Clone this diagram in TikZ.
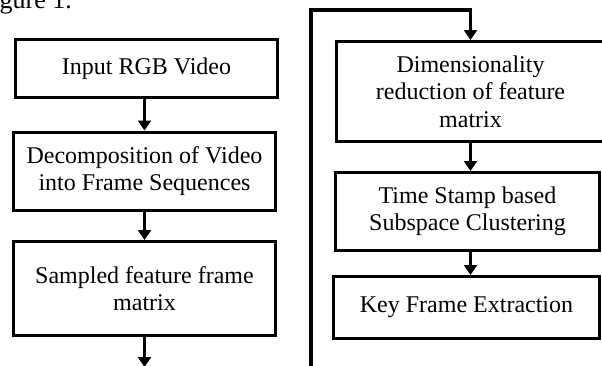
\documentclass[tikz,border=0pt]{standalone}
\usepackage{fontspec}
\setmainfont{Liberation Serif}
\usetikzlibrary{arrows.meta}
\begin{document}
\begin{tikzpicture}[x=1pt,y=-1pt,
  txt/.style={font=\fontsize{24}{27.5}\selectfont},
  box/.style={txt, draw=black, line width=3.3pt, align=center, inner sep=0pt},
  flow/.style={line width=3.3pt, -{Triangle[width=13pt,length=10pt]}},
  ]
\useasboundingbox (0,0) rectangle (602,365);
\begin{scope}
\clip (0,0) rectangle (602,365);
\node[font=\fontsize{26}{30}\selectfont, anchor=base east, inner sep=0pt] (cap) at (72,8.5) {Figure 1.};
\end{scope}
% left column
\node[box, minimum width=261.7pt, minimum height=57.7pt] (A) at (146.5,68.5) {Input RGB Video};
\node[box, minimum width=261.7pt, minimum height=78.2pt] (B) at (144.5,171.25) {Decomposition of Video\\into Frame Sequences};
\node[box, minimum width=261.7pt, minimum height=93.7pt] (C) at (144.5,288.5) {Sampled feature frame\\matrix};
% right column
\node[box, minimum width=267.7pt, minimum height=99.7pt] (D) at (470.5,91.5) {Dimensionality\\reduction of feature\\matrix};
\node[box, minimum width=263.7pt, minimum height=77.7pt] (E) at (467.5,211.5) {Time Stamp based\\Subspace Clustering};
\node[box, minimum width=265.7pt, minimum height=61.7pt] (F) at (466.5,307.5) {Key Frame Extraction};
% connectors
\coordinate (Cout) at (144.5,367);
\coordinate (Rbot) at (311,368);
\coordinate (Rtop) at (311,10);
\draw[flow] (B.north |- A.south) -- (B.north);
\draw[flow] (B.south) -- (C.north);
\draw[flow] (C.south) -- (Cout);
\draw[flow] (Rbot) -- (Rtop) -| (D.north);
\draw[flow] (D.south) -- (D.south |- E.north);
\draw[flow] (D.south |- E.south) -- (D.south |- F.north);
\end{tikzpicture}
\end{document}
